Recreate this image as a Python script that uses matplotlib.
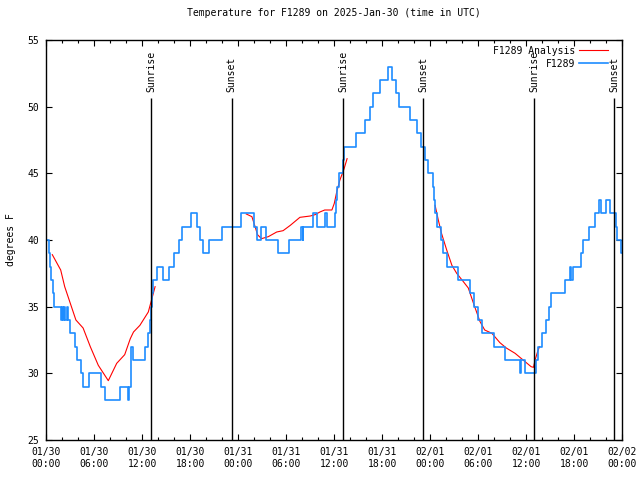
import numpy as np, pandas as pd, matplotlib
matplotlib.use('Agg')
import matplotlib.pyplot as plt
import matplotlib.dates as mdates

START = pd.Timestamp('2025-01-30 00:00')
FONT = 'DejaVu Sans Mono'
FS = 7

# observed temperature: change points (hours after start, deg F), held until next point
obs_hours = [0.0, 0.3, 0.45, 0.6, 0.8, 1.0, 1.8, 1.95, 2.1, 2.25, 2.4, 2.55, 2.75, 2.95,
             3.65, 3.85, 4.3, 4.65, 5.4, 6.8, 7.4, 9.2, 10.25, 10.4, 10.55, 10.9,
             12.4, 12.7, 12.95, 13.1, 13.25, 13.4, 13.9, 14.6, 15.4, 16.0, 16.6, 17.0,
             18.1, 18.9, 19.2, 19.6, 20.4, 22.0, 24.3, 26.0, 26.3, 26.8, 27.5, 29.0,
             30.4, 31.8, 32.05, 32.15, 33.4, 33.9, 34.9, 35.05, 36.1, 36.25, 36.4, 36.6,
             37.05, 37.2, 38.7, 39.9, 40.5, 40.9, 41.7, 42.7, 43.25, 43.7, 44.1, 45.5,
             46.4, 46.9, 47.3, 47.7, 48.35, 48.5, 48.6, 48.8, 49.3, 49.6, 50.05, 51.5,
             52.95, 53.5, 54.0, 54.5, 56.0, 57.3, 59.2, 59.35, 59.8, 61.2, 61.5, 61.95,
             62.5, 62.8, 63.1, 64.8, 65.5, 65.6, 65.8, 66.9, 67.05, 67.8, 68.65, 69.1,
             69.3, 70.0, 70.5, 71.25, 71.4, 71.8, 72.0]
obs_temp = [40, 39, 38, 37, 36, 35, 34, 35, 34, 35, 34, 35, 34, 33,
            32, 31, 30, 29, 30, 29, 28, 29, 28, 29, 32, 31,
            32, 33, 34, 35, 36, 37, 38, 37, 38, 39, 40, 41,
            42, 41, 40, 39, 40, 41, 42, 41, 40, 41, 40, 39,
            40, 41, 40, 41, 42, 41, 42, 41, 42, 43, 44, 45,
            46, 47, 48, 49, 50, 51, 52, 53, 52, 51, 50, 49,
            48, 47, 46, 45, 44, 43, 42, 41, 40, 39, 38, 37,
            36, 35, 34, 33, 32, 31, 30, 31, 30, 31, 32, 33,
            34, 35, 36, 37, 38, 37, 38, 39, 40, 41, 42, 43,
            42, 43, 42, 41, 40, 39, 39]

# analysis curve, three pieces separated by nan
anl_hours = [0.75, 1.8, 2.3, 3.0, 3.7, 4.6, 5.5, 6.5, 7.75, 8.8, 9.8, 10.5, 10.9, 11.7,
             12.75, 13.2, 13.6, 20.0,
             25.0, 25.7, 26.1, 26.4, 26.9, 27.75, 28.8, 29.6, 30.5, 31.7, 33.0, 33.6,
             34.2, 34.8, 35.7, 36.0, 36.3, 36.7, 37.2, 37.6, 42.0,
             48.6, 49.0, 49.4, 50.05, 50.7, 51.3, 52.1, 52.75, 53.4, 54.2, 54.8, 55.7,
             56.7, 57.5, 58.6, 59.6, 60.6, 60.9, 61.1, 61.4, 61.65]
anl_temp = [38.9, 37.75, 36.5, 35.25, 34.0, 33.4, 32.0, 30.6, 29.45, 30.75, 31.4, 32.6, 33.1, 33.6,
            34.6, 35.6, 36.5, np.nan,
            41.95, 41.75, 41.0, 40.4, 40.1, 40.25, 40.6, 40.7, 41.1, 41.7, 41.8, 41.9,
            42.1, 42.25, 42.25, 42.75, 43.6, 44.5, 45.3, 46.1, np.nan,
            42.6, 41.5, 40.5, 39.25, 38.1, 37.5, 36.9, 36.4, 35.25, 33.9, 33.25, 33.0,
            32.3, 31.9, 31.5, 31.0, 30.5, 30.45, 31.0, 31.6, 32.0]

sunrise_hours = [13.09, 37.09, 60.96]
sunset_hours = [23.17, 47.09, 70.96]


def to_time(h):
    return START + pd.to_timedelta(np.asarray(h, dtype=float), unit='h')


fig = plt.figure(figsize=(6.4, 4.8), dpi=100)
ax = fig.add_axes([46.3 / 640, 40 / 480, 576 / 640, 400 / 480])

ax.plot(to_time(anl_hours), anl_temp, color='#ff0000', lw=0.8, label='F1289 Analysis')
ax.plot(to_time(obs_hours), obs_temp, color='#1e8cff', lw=1.2, drawstyle='steps-post', label='F1289')

for hs, name in [(sunrise_hours, 'Sunrise'), (sunset_hours, 'Sunset')]:
    for h in hs:
        t = to_time([h])[0]
        ax.vlines(t, 25, 50.65, color='black', lw=1.0)
        ax.text(t, 51.1, name, rotation=90, ha='center', va='bottom',
                family=FONT, fontsize=FS)

ax.set_xlim(to_time([0])[0], to_time([72])[0])
ax.set_ylim(25, 55)
ax.set_yticks(np.arange(25, 56, 5))
ax.xaxis.set_major_locator(mdates.HourLocator(byhour=[0, 6, 12, 18]))
ax.xaxis.set_minor_locator(mdates.HourLocator(interval=2))
ax.xaxis.set_major_formatter(mdates.DateFormatter('%m/%d\n%H:%M'))

ax.tick_params(which='both', direction='in', top=True, right=True, width=0.8,
               labelsize=FS, pad=5)
ax.tick_params(which='major', length=4)
ax.tick_params(which='minor', length=2.5)
for lab in ax.get_xticklabels() + ax.get_yticklabels():
    lab.set_family(FONT)
for s in ax.spines.values():
    s.set_linewidth(1.0)

ax.set_title('Temperature for F1289 on 2025-Jan-30 (time in UTC)', family=FONT,
             fontsize=FS, pad=17)
ax.set_ylabel('degrees F', family=FONT, fontsize=FS, labelpad=8)

ax.legend(loc='upper right', bbox_to_anchor=(0.986, 1.0), frameon=False,
          markerfirst=False, handlelength=3.0,
          prop={'family': FONT, 'size': FS}, borderaxespad=0.2, labelspacing=0.3,
          handletextpad=0.4)

fig.savefig('out.png', dpi=100)
